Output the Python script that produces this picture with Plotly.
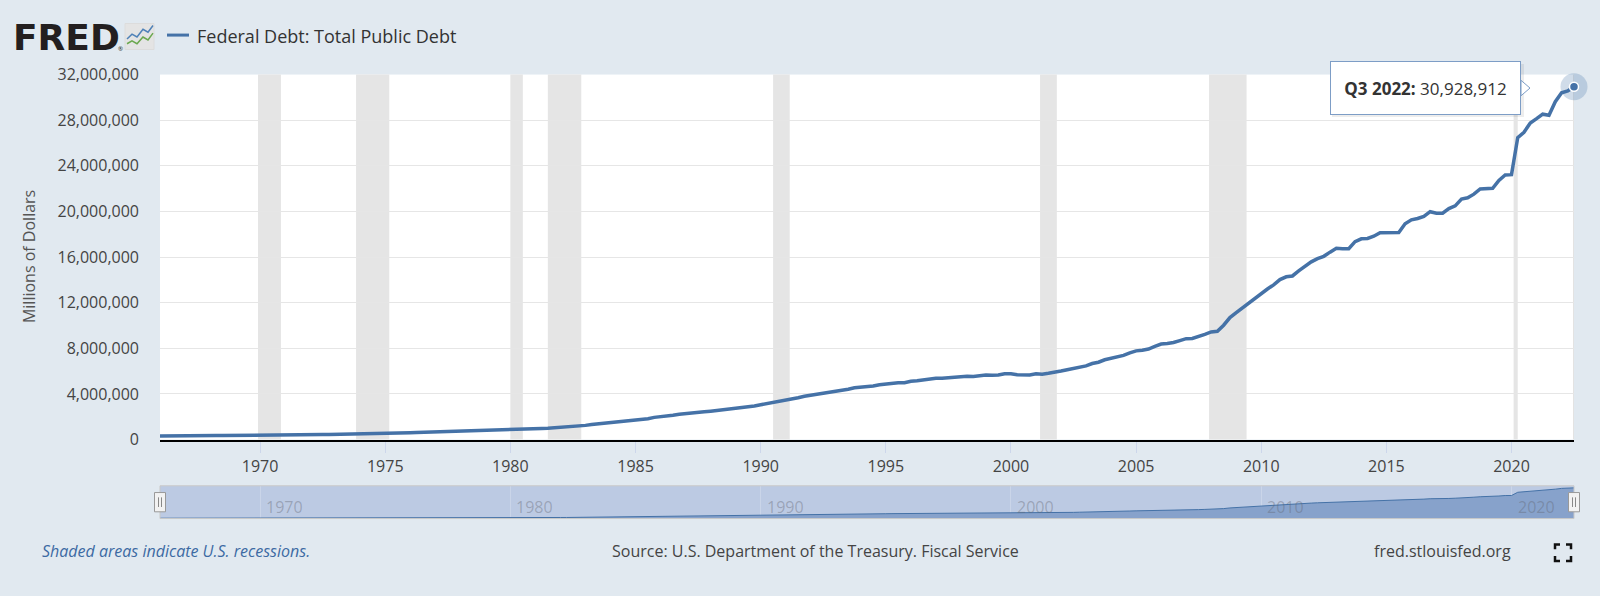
import pandas as pd
import plotly.graph_objects as go

# ---------------- data (millions of dollars, quarterly, from 1966 Q1) ----------------
first_quarter = "1966-01-01"
debt_millions = [
    320999, 316097, 324748, 329319,
    330947, 322286, 337987, 344663,
    348066, 347578, 358029, 358983,
    359529, 353720, 362976, 365769,
    370919, 370919, 381000, 388252,
    390540, 398130, 414000, 424131,
    427260, 427751, 437000, 449298,
    458000, 458264, 465000, 469898,
    474000, 475060, 481000, 492665,
    508000, 533189, 553000, 576649,
    599000, 620433, 635000, 653544,
    680000, 685187, 706000, 718943,
    749000, 771544, 780000, 789207,
    809000, 804900, 826000, 845116,
    873000, 877614, 908000, 930210,
    964000, 971200, 998000, 1028729,
    1061000, 1079000, 1142000, 1197000,
    1245000, 1319000, 1377000, 1410000,
    1464000, 1512000, 1572000, 1663000,
    1710000, 1774000, 1823000, 1945000,
    1986000, 2059000, 2125000, 2214000,
    2250000, 2310000, 2350000, 2431000,
    2487000, 2547000, 2602000, 2684000,
    2740000, 2799000, 2857000, 2953000,
    3052000, 3143000, 3233000, 3364000,
    3465000, 3538000, 3665000, 3801000,
    3881000, 3984000, 4065000, 4177000,
    4230000, 4352000, 4411000, 4536000,
    4576000, 4645000, 4693000, 4801000,
    4865000, 4951000, 4974000, 4989000,
    5118000, 5161000, 5225000, 5328000,
    5381000, 5376000, 5413000, 5502000,
    5543000, 5548000, 5526000, 5614000,
    5652000, 5639000, 5656000, 5776000,
    5774000, 5686000, 5674000, 5662000,
    5774000, 5726000, 5807000, 5943000,
    6006000, 6126000, 6228000, 6405000,
    6460000, 6670000, 6783000, 6998000,
    7131000, 7274000, 7379000, 7596000,
    7777000, 7837000, 7933000, 8170000,
    8371000, 8420000, 8507000, 8680000,
    8849000, 8867000, 9008000, 9229000,
    9437000, 9492000, 10025000, 10700000,
    11127000, 11545000, 11910000, 12311000,
    12773000, 13202000, 13562000, 14025000,
    14270000, 14343000, 14790000, 15223000,
    15582000, 15856000, 16066000, 16433000,
    16771000, 16738000, 16738000, 17352000,
    17601000, 17632000, 17824000, 18141000,
    18152000, 18152000, 18151000, 18922000,
    19264000, 19382000, 19573000, 19977000,
    19847000, 19845000, 20245000, 20493000,
    21090000, 21195000, 21516000, 21974000,
    22028000, 22023000, 22719000, 23201000,
    23224000, 26477000, 26945000, 27748000,
    28133000, 28529000, 28429000, 29617000,
    30401000, 30569000, 30928912,
]
quarter_dates = pd.date_range(first_quarter, periods=len(debt_millions), freq="QS")

recession_start = ["1969-12-01", "1973-11-01", "1980-01-01", "1981-07-01",
                   "1990-07-01", "2001-03-01", "2007-12-01", "2020-02-01"]
recession_end = ["1970-11-01", "1975-03-01", "1980-07-01", "1982-11-01",
                 "1991-03-01", "2001-11-01", "2009-06-01", "2020-04-01"]

x_tick_years = [1970, 1975, 1980, 1985, 1990, 1995, 2000, 2005, 2010, 2015, 2020]
navigator_years = [1970, 1980, 1990, 2000, 2010, 2020]
y_ticks = [0, 4000000, 8000000, 12000000, 16000000, 20000000, 24000000, 28000000, 32000000]

series_name = "Federal Debt: Total Public Debt"
y_title = "Millions of Dollars"
footnote = "Shaded areas indicate U.S. recessions."
source_text = "Source: U.S. Department of the Treasury. Fiscal Service"
site_text = "fred.stlouisfed.org"

# ---------------- layout helpers (pixel -> paper) ----------------
W, H = 1600, 596
def px(x):
    return x / W
def py(y):
    return (H - y) / H
def path(points, close=False):
    s = "M " + " L ".join(f"{px(a):.5f} {py(b):.5f}" for a, b in points)
    return s + (" Z" if close else "")

BLUE = "#4572a7"
BG = "#e1e9f0"
FONT = "Open Sans"

x_range = [quarter_dates[0], quarter_dates[-1]]

fig = go.Figure()

# main line
fig.add_trace(go.Scatter(
    x=quarter_dates, y=debt_millions, mode="lines",
    line=dict(color=BLUE, width=3.5), xaxis="x", yaxis="y",
    hoverinfo="skip", showlegend=False,
))
# highlighted last point (halo + marker)
fig.add_trace(go.Scatter(
    x=[quarter_dates[-1]], y=[debt_millions[-1]], mode="markers",
    marker=dict(size=27, color="rgba(69,114,167,0.25)", line=dict(width=0)),
    cliponaxis=False, xaxis="x", yaxis="y", hoverinfo="skip", showlegend=False,
))
fig.add_trace(go.Scatter(
    x=[quarter_dates[-1]], y=[debt_millions[-1]], mode="markers",
    marker=dict(size=9, color=BLUE, line=dict(width=1.5, color="white")),
    cliponaxis=False, xaxis="x", yaxis="y", hoverinfo="skip", showlegend=False,
))
# navigator series
fig.add_trace(go.Scatter(
    x=quarter_dates, y=debt_millions, mode="lines", fill="tozeroy",
    fillcolor="#87a2cb", line=dict(color=BLUE, width=1),
    xaxis="x2", yaxis="y2", hoverinfo="skip", showlegend=False,
))

shapes = []
# recession bands
for s, e in zip(recession_start, recession_end):
    shapes.append(dict(type="rect", xref="x", yref="y domain", x0=s, x1=e, y0=0, y1=1,
                       fillcolor="#e5e5e5", line=dict(width=0), layer="below"))
# light vertical crosshair at last observation
shapes.append(dict(type="line", xref="x", yref="y domain", x0=quarter_dates[-1], x1=quarter_dates[-1],
                   y0=0, y1=1, line=dict(color="#e3e3e3", width=2), layer="below"))
# navigator background & border
shapes.append(dict(type="rect", xref="x2 domain", yref="y2 domain", x0=0, x1=1, y0=0, y1=1,
                   fillcolor="#bccae3", line=dict(width=0), layer="below"))
shapes.append(dict(type="rect", xref="x2 domain", yref="y2 domain", x0=0, x1=1, y0=0, y1=1,
                   fillcolor="rgba(0,0,0,0)", line=dict(color="#c8c8c8", width=1), layer="above"))
# navigator handles
for cx in (160, 1574):
    shapes.append(dict(type="rect", xref="paper", yref="paper",
                       x0=px(cx - 5.5), x1=px(cx + 5.5), y0=py(520), y1=py(500),
                       fillcolor="#f2f2f2", line=dict(color="#999999", width=1), layer="above"))
    for dx in (-1.5, 1.5):
        shapes.append(dict(type="line", xref="paper", yref="paper",
                           x0=px(cx + dx), x1=px(cx + dx), y0=py(515), y1=py(505),
                           line=dict(color="#888888", width=1), layer="above"))
# legend swatch
shapes.append(dict(type="line", xref="paper", yref="paper", x0=px(167), x1=px(189),
                   y0=py(25), y1=py(25), line=dict(color=BLUE, width=3)))
# FRED icon
shapes.append(dict(type="rect", xref="paper", yref="paper", x0=px(125), x1=px(154),
                   y0=py(40), y1=py(13), fillcolor="#e4e4e4", line=dict(color="#dcdcdc", width=1)))
shapes.append(dict(type="path", xref="paper", yref="paper",
                   path=path([(127, 29), (132, 24), (137, 27), (143, 19), (148, 22), (153, 15)]),
                   line=dict(color="#4f82b8", width=1.5)))
shapes.append(dict(type="path", xref="paper", yref="paper",
                   path=path([(127, 34), (132, 31), (137, 34), (143, 27), (148, 30), (153, 23)]),
                   line=dict(color="#6aa84f", width=1.5)))
# tooltip shadow + callout
shapes.append(dict(type="rect", xref="paper", yref="paper", x0=px(1332), x1=px(1524),
                   y0=py(110), y1=py(55), fillcolor="rgba(0,0,0,0.07)", line=dict(width=0), layer="above"))
shapes.append(dict(type="path", xref="paper", yref="paper",
                   path=path([(1521, 72), (1530, 80), (1521, 88)], close=True),
                   fillcolor="#ffffff", line=dict(color="#7d9dc6", width=1), layer="above"))
# fullscreen icon
for pts in ([(1555, 559), (1555, 554), (1560, 554)],
            [(1566, 554), (1571, 554), (1571, 559)],
            [(1555, 566), (1555, 571), (1560, 571)],
            [(1566, 571), (1571, 571), (1571, 566)]):
    shapes.append(dict(type="path", xref="paper", yref="paper", path=path(pts),
                       line=dict(color="#111111", width=2.5)))

annotations = []
annotations.append(dict(xref="paper", yref="paper", x=px(11), y=py(27), xanchor="left", yanchor="middle",
                        text="<b>FRED</b>", showarrow=False,
                        font=dict(family="DejaVu Sans", size=36, color="#231f20")))
annotations.append(dict(xref="paper", yref="paper", x=px(116), y=py(39), xanchor="left", yanchor="middle",
                        text="®", showarrow=False, font=dict(family=FONT, size=6, color="#231f20")))
annotations.append(dict(xref="paper", yref="paper", x=px(195), y=py(26), xanchor="left", yanchor="middle",
                        text=series_name, showarrow=False, font=dict(family=FONT, size=18, color="#333333")))
annotations.append(dict(xref="paper", yref="paper", x=px(29), y=py(255.5), xanchor="center", yanchor="middle",
                        text=y_title, textangle=-90, showarrow=False,
                        font=dict(family=FONT, size=16, color="#555555")))
last = quarter_dates[-1]
tip = f"<b>Q{(last.month - 1) // 3 + 1} {last.year}:</b> {debt_millions[-1]:,}"
annotations.append(dict(xref="paper", yref="paper", x=px(1425.5), y=py(80), xanchor="center", yanchor="middle",
                        text=tip, showarrow=False, bgcolor="#ffffff", bordercolor="#7d9dc6",
                        borderwidth=1, borderpad=7, width=175, height=38,
                        font=dict(family=FONT, size=17, color="#333333")))
for yr in navigator_years:
    annotations.append(dict(xref="x2", yref="paper", x=f"{yr}-01-01", y=py(515), xanchor="left",
                            yanchor="middle", xshift=4, text=str(yr), showarrow=False,
                            font=dict(family=FONT, size=16, color="rgba(95,100,110,0.38)")))
annotations.append(dict(xref="paper", yref="paper", x=px(40), y=py(561), xanchor="left", yanchor="middle",
                        text=f"<i>{footnote}</i>", showarrow=False,
                        font=dict(family=FONT, size=16, color="#3c6aa3")))
annotations.append(dict(xref="paper", yref="paper", x=px(815), y=py(561), xanchor="center", yanchor="middle",
                        text=source_text, showarrow=False, font=dict(family=FONT, size=16, color="#444444")))
annotations.append(dict(xref="paper", yref="paper", x=px(1513), y=py(561), xanchor="right", yanchor="middle",
                        text=site_text, showarrow=False, font=dict(family=FONT, size=16, color="#444444")))

fig.update_layout(
    width=W, height=H, margin=dict(l=0, r=0, t=0, b=0),
    paper_bgcolor=BG, plot_bgcolor="#ffffff",
    font=dict(family=FONT, size=16, color="#444444"),
    hovermode=False, showlegend=False,
    shapes=shapes, annotations=annotations,
    xaxis=dict(domain=[px(160), px(1574)], anchor="y", type="date", range=x_range,
               tickvals=[f"{y}-01-01" for y in x_tick_years], ticktext=[str(y) for y in x_tick_years],
               ticks="outside", ticklen=11, tickcolor="#ccd6eb", tickwidth=1,
               showline=True, linecolor="#000000", linewidth=2, showgrid=False, zeroline=False,
               tickfont=dict(family=FONT, size=16, color="#444444")),
    yaxis=dict(domain=[py(445), py(66)], anchor="x", range=[0, 32000000],
               tickvals=y_ticks, tickformat=",", ticks="", ticklabelstandoff=20,
               showgrid=True, gridcolor="#e6e6e6", gridwidth=1, zeroline=False, showline=False,
               tickfont=dict(family=FONT, size=16, color="#444444")),
    xaxis2=dict(domain=[px(160), px(1574)], anchor="y2", type="date", range=x_range,
                tickvals=[f"{y}-01-01" for y in navigator_years], showticklabels=False, ticks="",
                showgrid=True, gridcolor="#cad5e9", gridwidth=1, zeroline=False, showline=False),
    yaxis2=dict(domain=[py(527), py(493)], anchor="x2", range=[0, 33000000],
                showgrid=False, showticklabels=False, ticks="", zeroline=False, showline=False),
)

# reset the page margin synchronously (right after the plot call) so the figure sits at (0, 0)
page_reset = ("});document.body.style.margin='0';document.body.style.padding='0';"
              "document.body.style.overflow='hidden';(function(){")
fig.write_html("out.html", config={"displayModeBar": False}, post_script=page_reset)
